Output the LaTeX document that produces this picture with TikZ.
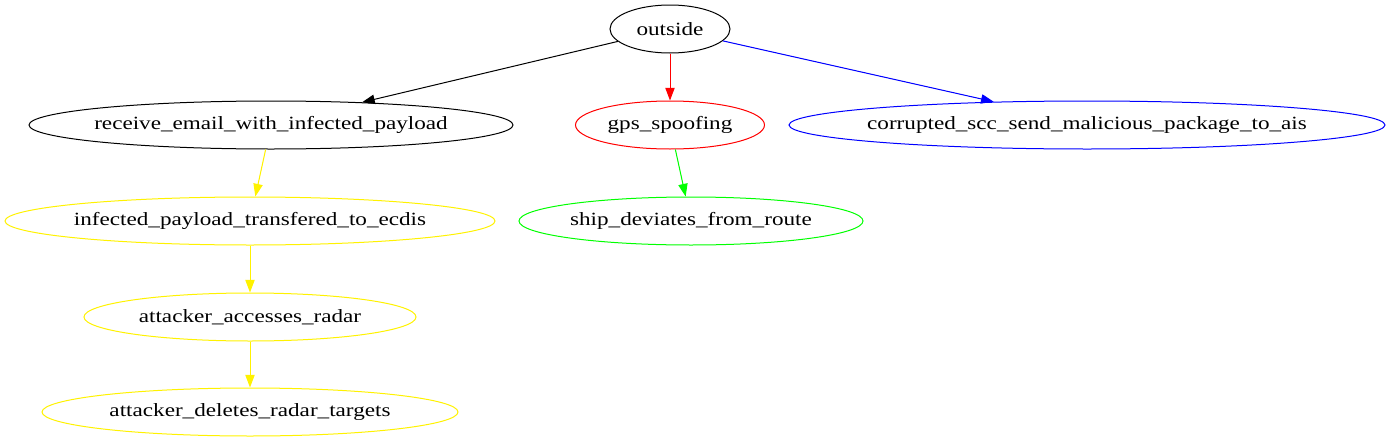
\documentclass[tikz,border=0pt]{standalone}
\usepackage{fontspec}
\setmainfont{Liberation Serif}[FakeStretch=1.24]
\usetikzlibrary{shapes.geometric,arrows.meta}
\newcommand{\glbl}[1]{\makebox[0pt][c]{#1}}
\begin{document}
\begin{tikzpicture}[x=0.75pt,y=-0.75pt,
  gnode/.style={ellipse,draw,inner sep=0pt,line width=0.75pt,font=\fontsize{14}{16}\selectfont},
  gedge/.style={line width=0.75pt,-{Triangle[length=9.5pt,width=7pt]}}]
\useasboundingbox (0,0) rectangle (1390,443);
\node[gnode,minimum width=120*0.75pt,minimum height=48*0.75pt] (outside) at (670,29) {\glbl{outside}};
\node[gnode,minimum width=484*0.75pt,minimum height=48*0.75pt] (receive) at (271,125) {\glbl{receive\_email\_with\_infected\_payload}};
\node[gnode,draw=red,minimum width=189*0.75pt,minimum height=48*0.75pt] (gps) at (670,125) {\glbl{gps\_spoofing}};
\node[gnode,draw=blue,minimum width=596*0.75pt,minimum height=48*0.75pt] (corrupted) at (1087,125) {\glbl{corrupted\_scc\_send\_malicious\_package\_to\_ais}};
\node[gnode,draw=yellow,minimum width=490*0.75pt,minimum height=48*0.75pt] (infected) at (250,221) {\glbl{infected\_payload\_transfered\_to\_ecdis}};
\node[gnode,draw=green,minimum width=344*0.75pt,minimum height=48*0.75pt] (ship) at (691,221) {\glbl{ship\_deviates\_from\_route}};
\node[gnode,draw=yellow,minimum width=332*0.75pt,minimum height=48*0.75pt] (accesses) at (250,317) {\glbl{attacker\_accesses\_radar}};
\node[gnode,draw=yellow,minimum width=416*0.75pt,minimum height=48*0.75pt] (deletes) at (250,412) {\glbl{attacker\_deletes\_radar\_targets}};
\draw[gedge] (outside) -- (receive.14);
\draw[gedge,draw=red,fill=red] (outside) -- (gps);
\draw[gedge,draw=blue,fill=blue] (outside) -- (corrupted.166);
\draw[gedge,draw=yellow,fill=yellow] (receive) -- (infected);
\draw[gedge,draw=green,fill=green] (gps) -- (ship);
\draw[gedge,draw=yellow,fill=yellow] (infected) -- (accesses);
\draw[gedge,draw=yellow,fill=yellow] (accesses) -- (deletes);
\end{tikzpicture}
\end{document}
